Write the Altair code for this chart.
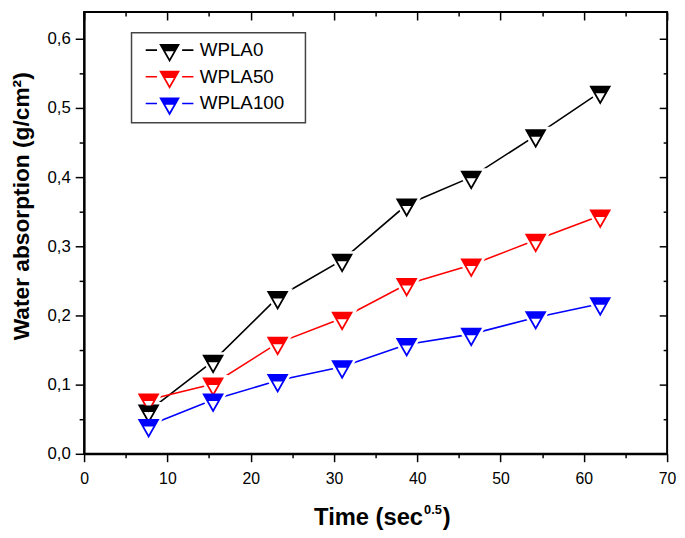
import altair as alt
import pandas as pd

FONT = "Liberation Sans"

series = ["WPLA0", "WPLA50", "WPLA100"]
colors = ["#000000", "#ff0000", "#0000ff"]
time = [7.75, 15.49, 23.24, 30.98, 38.73, 46.48, 54.22, 61.97]
wpla0 = [0.062, 0.134, 0.226, 0.280, 0.360, 0.400, 0.460, 0.523]
wpla50 = [0.078, 0.101, 0.160, 0.196, 0.245, 0.273, 0.309, 0.344]
wpla100 = [0.041, 0.078, 0.106, 0.126, 0.158, 0.173, 0.197, 0.217]

x_major = [0, 10, 20, 30, 40, 50, 60, 70]
x_minor = [5, 15, 25, 35, 45, 55, 65]
y_major = [0.0, 0.1, 0.2, 0.3, 0.4, 0.5, 0.6]
y_minor = [0.05, 0.15, 0.25, 0.35, 0.45, 0.55]

names = [s for s in series for _ in time]
df = pd.DataFrame({
    "time": time * 3,
    "value": wpla0 + wpla50 + wpla100,
    "series": names,
    "legend_name": names,
})

# marker shapes (centroid at origin)
TRI = "M-1,-0.587L1,-0.587L0,1.173Z"
TOP = "M-1,-0.587L1,-0.587L0.6,0.117L-0.6,0.117Z"
LEG = ("M-1,-0.587L1,-0.587L0,1.173Z"
       "M-0.708,-0.417L0,0.828L0.708,-0.417Z"
       "M-1,-0.587L1,-0.587L0.6,0.117L-0.6,0.117Z"
       "M-2.3,-0.075L-1.21,-0.075L-1.21,0.075L-2.3,0.075Z"
       "M1.21,-0.075L2.3,-0.075L2.3,0.075L1.21,0.075Z")

xs = alt.Scale(domain=[0, 70], nice=False, zero=False)
ys = alt.Scale(domain=[0, 0.6386], nice=False, zero=False)

common = dict(grid=False, tickColor="black", tickWidth=1.5, labelFlush=False,
              labelOverlap=False)

ax_xb = alt.Axis(orient="bottom", values=x_major, tickSize=8, domain=True,
                 domainWidth=2, domainColor="black", labelFontSize=16,
                 labelFont=FONT, labelColor="black", labelPadding=9,
                 title=None, **common)
ax_xb_m = alt.Axis(orient="bottom", values=x_minor, tickSize=4, domain=False,
                   labels=False, title=None, **common)
ax_xt = alt.Axis(orient="top", values=x_major, tickSize=8, offset=-8,
                 domain=False, labels=False, title=None, **common)
ax_xt_m = alt.Axis(orient="top", values=x_minor, tickSize=4, offset=-4,
                   domain=False, labels=False, title=None, **common)

ax_yl = alt.Axis(orient="left", values=y_major, tickSize=9, domain=True,
                 domainWidth=2, domainColor="black", labelFontSize=17,
                 labelFont=FONT, labelColor="black", labelPadding=5,
                 labelExpr="replace(format(datum.value, '.1f'), '.', ',')",
                 title="Water absorption (g/cm²)", titleFont=FONT,
                 titleFontSize=23, titleFontWeight="bold", titleColor="black",
                 titleX=-63, titleY=196, titleAngle=270, titleAlign="center",
                 titleBaseline="middle", **common)
ax_yl_m = alt.Axis(orient="left", values=y_minor, tickSize=5, domain=False,
                   labels=False, title=None, **common)
ax_yr = alt.Axis(orient="right", values=y_major, tickSize=8, offset=-8,
                 domain=False, labels=False, title=None, **common)
ax_yr_m = alt.Axis(orient="right", values=y_minor, tickSize=4, offset=-4,
                   domain=False, labels=False, title=None, **common)


def enc(ax_x, ax_y):
    return dict(x=alt.X("time:Q", scale=xs, axis=ax_x),
                y=alt.Y("value:Q", scale=ys, axis=ax_y))


stroke_enc = alt.Stroke("series:N", scale=alt.Scale(domain=series, range=colors),
                        legend=None, sort=series)

pad = "\u2800" * 1
legend = alt.Legend(orient="none", legendX=48, legendY=21, padding=7,
                    title=None, symbolType=LEG, symbolSize=441,
                    symbolStrokeWidth=0, symbolOffset=21, labelOffset=20,
                    rowPadding=4, labelFontSize=19, labelFont=FONT,
                    labelColor="black", strokeColor="#444444", fillColor="white",
                    labelExpr="datum.label + '" + pad + "'")

lines = alt.Chart(df).mark_line(strokeWidth=1.6).encode(
    stroke=stroke_enc, **enc(ax_xb, ax_yl))

halo = alt.Chart(df).mark_point(shape=TRI, filled=True, size=361, fill="white",
                                stroke="white", strokeWidth=7, opacity=1).encode(
    **enc(ax_xb_m, ax_yl_m))

tri = alt.Chart(df).mark_point(shape=TRI, filled=True, size=361, fill="white",
                               strokeWidth=1.8, opacity=1).encode(
    stroke=stroke_enc, **enc(ax_xt, ax_yr))

top = alt.Chart(df).mark_point(shape=TOP, filled=True, size=361, strokeWidth=0,
                               opacity=1).encode(
    fill=alt.Fill("legend_name:N", scale=alt.Scale(domain=series, range=colors),
                  legend=legend, sort=series),
    **enc(ax_xt_m, ax_yr_m))

tdf = pd.DataFrame({"t": [0]})
t_main = alt.Chart(tdf).mark_text(text="Time (sec", align="right",
                                  baseline="alphabetic", fontSize=24,
                                  fontWeight="bold", font=FONT, color="black").encode(
    x=alt.value(343), y=alt.value(519))
t_sup = alt.Chart(tdf).mark_text(text="0.5", align="left", baseline="alphabetic",
                                 fontSize=13, fontWeight="bold", font=FONT,
                                 color="black").encode(
    x=alt.value(344), y=alt.value(508))
t_par = alt.Chart(tdf).mark_text(text=")", align="left", baseline="alphabetic",
                                 fontSize=24, fontWeight="bold", font=FONT,
                                 color="black").encode(
    x=alt.value(363), y=alt.value(519))

chart = alt.layer(lines, halo, tri, top, t_main, t_sup, t_par).resolve_axis(
    x="independent", y="independent"
).resolve_legend(
    stroke="independent", fill="independent"
).resolve_scale(
    stroke="independent", fill="independent"
).properties(
    width=590, height=447,
    autosize=alt.AutoSizeParams(type="none"),
    padding={"left": 77, "top": 1, "right": 10, "bottom": 76},
    background="white",
).configure_view(stroke="black", strokeWidth=2
).configure_legend(strokeWidth=1.5)

chart.save("out.html", embed_options={"renderer": "svg", "actions": False})
